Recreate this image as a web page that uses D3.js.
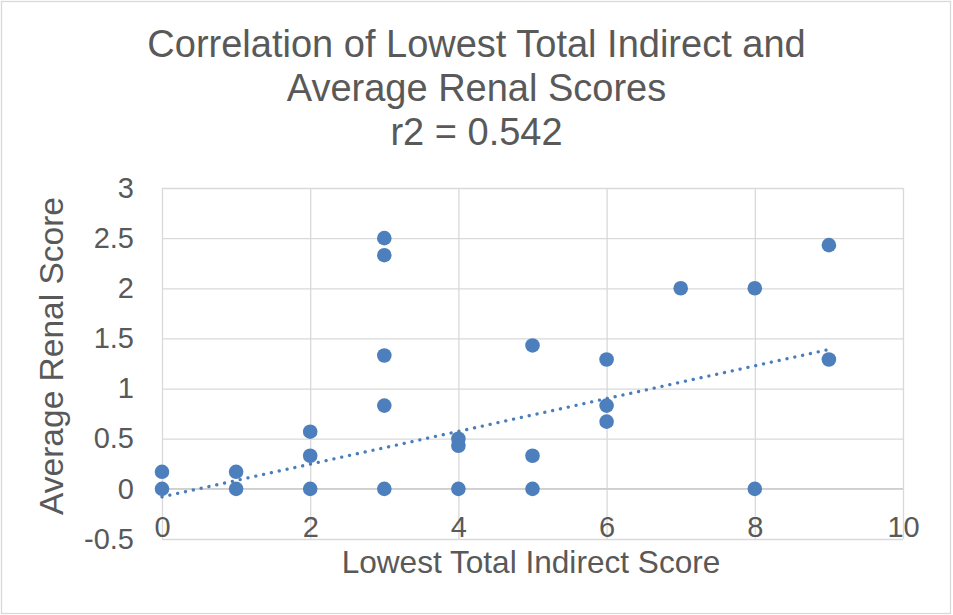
<!DOCTYPE html>
<html>
<head>
<meta charset="utf-8">
<script src="https://cdn.jsdelivr.net/npm/d3@7"></script>
<style>
  body { margin: 0; background: #fff; }
  text { font-family: "Liberation Sans", Arial, sans-serif; fill: #595959; }
</style>
</head>
<body>
<div id="chart"></div>
<script>
// scores
const lowestIndirect = [0, 0, 1, 1, 2, 2, 2, 3, 3, 3, 3, 3, 4, 4, 4, 5, 5, 5, 6, 6, 6, 7, 8, 8, 9, 9];
const avgRenal = [0.17, 0, 0.17, 0, 0.57, 0.33, 0, 2.5, 2.33, 1.33, 0.83, 0, 0.5, 0.43, 0, 1.43, 0.33, 0, 1.29, 0.83, 0.67, 2, 2, 0, 2.43, 1.29];
// linear trendline end points
const trendX = [0, 9];
const trendY = [-0.08, 1.39];
const xTicks = [0, 2, 4, 6, 8, 10];
const yTicks = [-0.5, 0, 0.5, 1, 1.5, 2, 2.5, 3];
const titleLines = ["Correlation of Lowest Total Indirect and", "Average Renal Scores", "r2 = 0.542"];

const W = 953, H = 615;
const margin = {top: 188, right: 50, bottom: 76, left: 162};
const width = 903 - margin.left;
const height = 539 - margin.top;

const svg = d3.select("#chart").append("svg")
    .attr("width", W)
    .attr("height", H);

svg.append("rect")
    .attr("x", 1.5).attr("y", 1.5)
    .attr("width", W - 4).attr("height", H - 3)
    .attr("fill", "#fff")
    .attr("stroke", "#d9d9d9")
    .attr("stroke-width", 1.3);

const g = svg.append("g")
    .attr("transform", "translate(" + margin.left + "," + margin.top + ")");

const x = d3.scaleLinear().domain([0, 10]).range([0, width]);
const y = d3.scaleLinear().domain([-0.5, 3]).range([height, 0]);

// gridlines
g.append("g")
    .attr("class", "grid")
    .call(d3.axisLeft(y).tickValues(yTicks).tickSize(-width).tickFormat(""))
    .call(a => a.select(".domain").remove());
g.append("g")
    .attr("class", "grid")
    .attr("transform", "translate(0," + height + ")")
    .call(d3.axisBottom(x).tickValues(xTicks).tickSize(-height).tickFormat(""))
    .call(a => a.select(".domain").remove());
g.selectAll(".grid line")
    .attr("stroke", "#d9d9d9")
    .attr("stroke-width", 1.3);

// zero line
g.append("line")
    .attr("x1", 0).attr("x2", width)
    .attr("y1", y(0)).attr("y2", y(0))
    .attr("stroke", "#cfcfcf")
    .attr("stroke-width", 1.5);

// tick labels
g.append("g")
    .attr("transform", "translate(0," + y(0) + ")")
    .call(d3.axisBottom(x).tickValues(xTicks).tickSize(0).tickPadding(28).tickFormat(d3.format("d")))
    .call(a => a.select(".domain").remove())
    .selectAll("text")
    .style("font-size", "29px")
    .attr("fill", "#595959");

g.append("g")
    .call(d3.axisLeft(y).tickValues(yTicks).tickSize(0).tickPadding(28).tickFormat(d => d))
    .call(a => a.select(".domain").remove())
    .selectAll("text")
    .style("font-size", "29px")
    .attr("fill", "#595959");

// trendline
const pts = trendX.map((d, i) => [d, trendY[i]]);
g.append("path")
    .datum(pts)
    .attr("d", d3.line().x(d => x(d[0])).y(d => y(d[1])))
    .attr("fill", "none")
    .attr("stroke", "#4a7ebb")
    .attr("stroke-width", 3.3)
    .attr("stroke-linecap", "round")
    .attr("stroke-dasharray", "0.1 7.9");

// points
g.selectAll(".dot")
    .data(lowestIndirect.map((d, i) => ({x: d, y: avgRenal[i]})))
    .enter()
    .append("circle")
    .attr("class", "dot")
    .attr("cx", d => x(d.x))
    .attr("cy", d => y(d.y))
    .attr("r", 7.3)
    .attr("fill", "#4e7fbd");

// title
svg.append("text")
    .attr("x", W / 2)
    .attr("text-anchor", "middle")
    .style("font-size", "38px")
    .selectAll("tspan")
    .data(titleLines)
    .enter()
    .append("tspan")
    .attr("x", W / 2)
    .attr("y", (d, i) => 57 + i * 44)
    .text(d => d);

// axis titles
svg.append("text")
    .attr("x", 531)
    .attr("y", 573)
    .attr("text-anchor", "middle")
    .style("font-size", "31.6px")
    .text("Lowest Total Indirect Score");

svg.append("text")
    .attr("transform", "translate(63,356) rotate(-90)")
    .attr("text-anchor", "middle")
    .style("font-size", "33.5px")
    .text("Average Renal Score");
</script>
</body>
</html>
